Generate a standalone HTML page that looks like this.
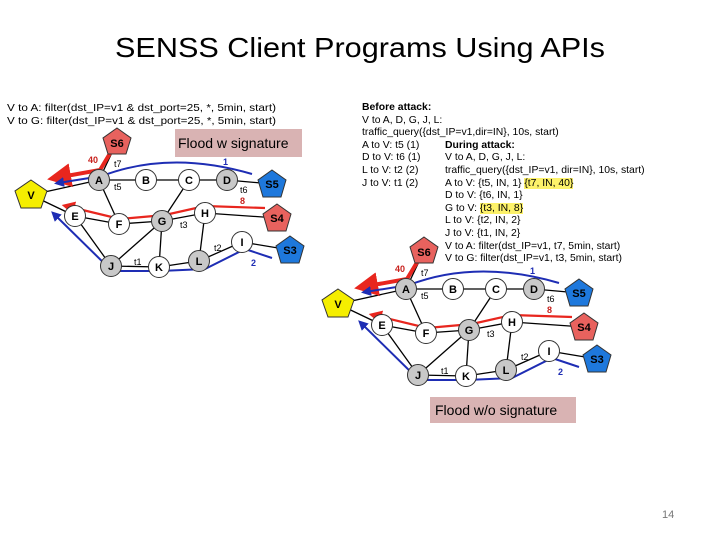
<!DOCTYPE html>
<html><head><meta charset="utf-8"><style>
html,body{margin:0;padding:0;background:#fff;}
svg{display:block;font-family:"Liberation Sans",Arial,sans-serif;}
.tb{position:absolute;font-family:"Liberation Sans",Arial,sans-serif;font-size:10.4px;line-height:12.6px;white-space:nowrap;color:#000;}
.hl{background:#fdf26a;}
</style></head><body>
<svg width="720" height="540" viewBox="0 0 720 540" xmlns="http://www.w3.org/2000/svg" style="position:absolute;left:0;top:0">
<defs>
<marker id="ar" markerWidth="6" markerHeight="6" refX="4" refY="3" orient="auto" markerUnits="strokeWidth"><path d="M0,0 L6,3 L0,6 Z" fill="#e8261e"/></marker>
<marker id="ab" markerWidth="5" markerHeight="5" refX="3" refY="2.5" orient="auto" markerUnits="strokeWidth"><path d="M0,0 L5,2.5 L0,5 Z" fill="#1e2db4"/></marker>
<g id="net">
  <g stroke="#000" stroke-width="1.3" fill="none">
    <line x1="117" y1="142" x2="99" y2="180"/>
    <line x1="99" y1="180" x2="31" y2="195"/>
    <line x1="99" y1="180" x2="227" y2="180"/>
    <line x1="227" y1="180" x2="272" y2="184"/>
    <line x1="99" y1="180" x2="119" y2="224"/>
    <line x1="31" y1="195" x2="75" y2="216"/>
    <line x1="75" y1="216" x2="119" y2="224"/>
    <line x1="119" y1="224" x2="162" y2="221"/>
    <line x1="162" y1="221" x2="189" y2="180"/>
    <line x1="162" y1="221" x2="205" y2="213"/>
    <line x1="205" y1="213" x2="277" y2="218"/>
    <line x1="162" y1="221" x2="111" y2="266"/>
    <line x1="162" y1="221" x2="159" y2="267"/>
    <line x1="75" y1="216" x2="111" y2="266"/>
    <line x1="111" y1="266" x2="159" y2="267"/>
    <line x1="159" y1="267" x2="199" y2="261"/>
    <line x1="199" y1="261" x2="205" y2="213"/>
    <line x1="199" y1="261" x2="242" y2="242"/>
    <line x1="242" y1="242" x2="290" y2="250"/>
  </g>
  <polyline points="112,150 100,170 55,178" fill="none" stroke="#e8261e" stroke-width="4" marker-end="url(#ar)"/>
  <path d="M252,174 Q170,150 102,176 L58,183" fill="none" stroke="#1e2db4" stroke-width="2" marker-end="url(#ab)"/>
  <polyline points="265,208 205,206 165,215 120,219 66,206" fill="none" stroke="#e8261e" stroke-width="2.2" marker-end="url(#ar)"/>
  <polyline points="272,258 245,249 205,269 160,271 112,271 54,214" fill="none" stroke="#1e2db4" stroke-width="2" marker-end="url(#ab)"/>
  <polygon points="117,128 131,138 126,154 108,154 103,138" fill="#e8625e" stroke="#333" stroke-width="1"/>
  <polygon points="31,180 47,191 41,208 21,208 15,191" fill="#f5ee00" stroke="#333" stroke-width="1"/>
  <polygon points="272,170 286,180 281,197 263,197 258,180" fill="#1e78dc" stroke="#333" stroke-width="1"/>
  <polygon points="277,204 291,214 286,231 268,231 263,214" fill="#e8625e" stroke="#333" stroke-width="1"/>
  <polygon points="290,236 304,246 299,263 281,263 276,246" fill="#1e78dc" stroke="#333" stroke-width="1"/>
  <g stroke="#333" stroke-width="1">
    <circle cx="99" cy="180" r="10.5" fill="#c8c8c8"/>
    <circle cx="146" cy="180" r="10.5" fill="#fff"/>
    <circle cx="189" cy="180" r="10.5" fill="#fff"/>
    <circle cx="227" cy="180" r="10.5" fill="#c8c8c8"/>
    <circle cx="75" cy="216" r="10.5" fill="#fff"/>
    <circle cx="119" cy="224" r="10.5" fill="#fff"/>
    <circle cx="162" cy="221" r="10.5" fill="#c8c8c8"/>
    <circle cx="205" cy="213" r="10.5" fill="#fff"/>
    <circle cx="242" cy="242" r="10.5" fill="#fff"/>
    <circle cx="111" cy="266" r="10.5" fill="#c8c8c8"/>
    <circle cx="159" cy="267" r="10.5" fill="#fff"/>
    <circle cx="199" cy="261" r="10.5" fill="#c8c8c8"/>
  </g>
  <g font-size="11" font-weight="bold" text-anchor="middle" fill="#000">
    <text x="99" y="184">A</text><text x="146" y="184">B</text><text x="189" y="184">C</text><text x="227" y="184">D</text>
    <text x="75" y="220">E</text><text x="119" y="228">F</text><text x="162" y="225">G</text><text x="205" y="217">H</text>
    <text x="242" y="246">I</text><text x="111" y="270">J</text><text x="159" y="271">K</text><text x="199" y="265">L</text>
    <text x="117" y="147">S6</text><text x="31" y="199">V</text><text x="272" y="188">S5</text>
    <text x="277" y="222">S4</text><text x="290" y="254">S3</text>
  </g>
  <g font-size="9" fill="#000">
    <text x="114" y="167">t7</text><text x="114" y="190">t5</text><text x="240" y="193">t6</text>
    <text x="180" y="228">t3</text><text x="214" y="251">t2</text><text x="134" y="265">t1</text>
  </g>
  <g font-size="9" font-weight="bold">
    <text x="88" y="163" fill="#c8201c">40</text><text x="223" y="165" fill="#1e2db4">1</text>
    <text x="240" y="204" fill="#c8201c">8</text><text x="251" y="266" fill="#1e2db4">2</text>
  </g>
</g>
</defs>

<text x="360" y="57" font-size="28" text-anchor="middle" textLength="490" lengthAdjust="spacingAndGlyphs">SENSS Client Programs Using APIs</text>

<g font-size="10.5" fill="#000">
  <text x="7" y="111" textLength="269" lengthAdjust="spacingAndGlyphs">V to A: filter(dst_IP=v1 &amp; dst_port=25, *, 5min, start)</text>
  <text x="7" y="124" textLength="269" lengthAdjust="spacingAndGlyphs">V to G: filter(dst_IP=v1 &amp; dst_port=25, *, 5min, start)</text>
</g>
<rect x="175" y="129" width="127" height="28" fill="#d9b3b3"/>
<text x="178" y="148" font-size="14">Flood w signature</text>

<use href="#net"/>
<use href="#net" transform="translate(307,109)"/>

<rect x="430" y="397" width="146" height="26" fill="#d9b3b3"/>
<text x="435" y="415" font-size="14">Flood w/o signature</text>

<text x="662" y="518" font-size="11" fill="#777">14</text>
</svg>
<div class="tb" style="left:362px;top:102px">
<b>Before attack:</b><br>
V to A, D, G, J, L:<br>
traffic_query({dst_IP=v1,dir=IN}, 10s, start)<br>
A to V: t5 (1)<br>
D to V: t6 (1)<br>
L to V: t2 (2)<br>
J to V: t1 (2)
</div>
<div class="tb" style="left:445px;top:139.8px">
<b>During attack:</b><br>
V to A, D, G, J, L:<br>
traffic_query({dst_IP=v1, dir=IN}, 10s, start)<br>
A to V: {t5, IN, 1} <span class="hl">{t7, IN, 40}</span><br>
D to V: {t6, IN, 1}<br>
G to V: <span class="hl">{t3, IN, 8}</span><br>
L to V: {t2, IN, 2}<br>
J to V: {t1, IN, 2}<br>
V to A: filter(dst_IP=v1, t7, 5min, start)<br>
V to G: filter(dst_IP=v1, t3, 5min, start)
</div>
</body></html>
